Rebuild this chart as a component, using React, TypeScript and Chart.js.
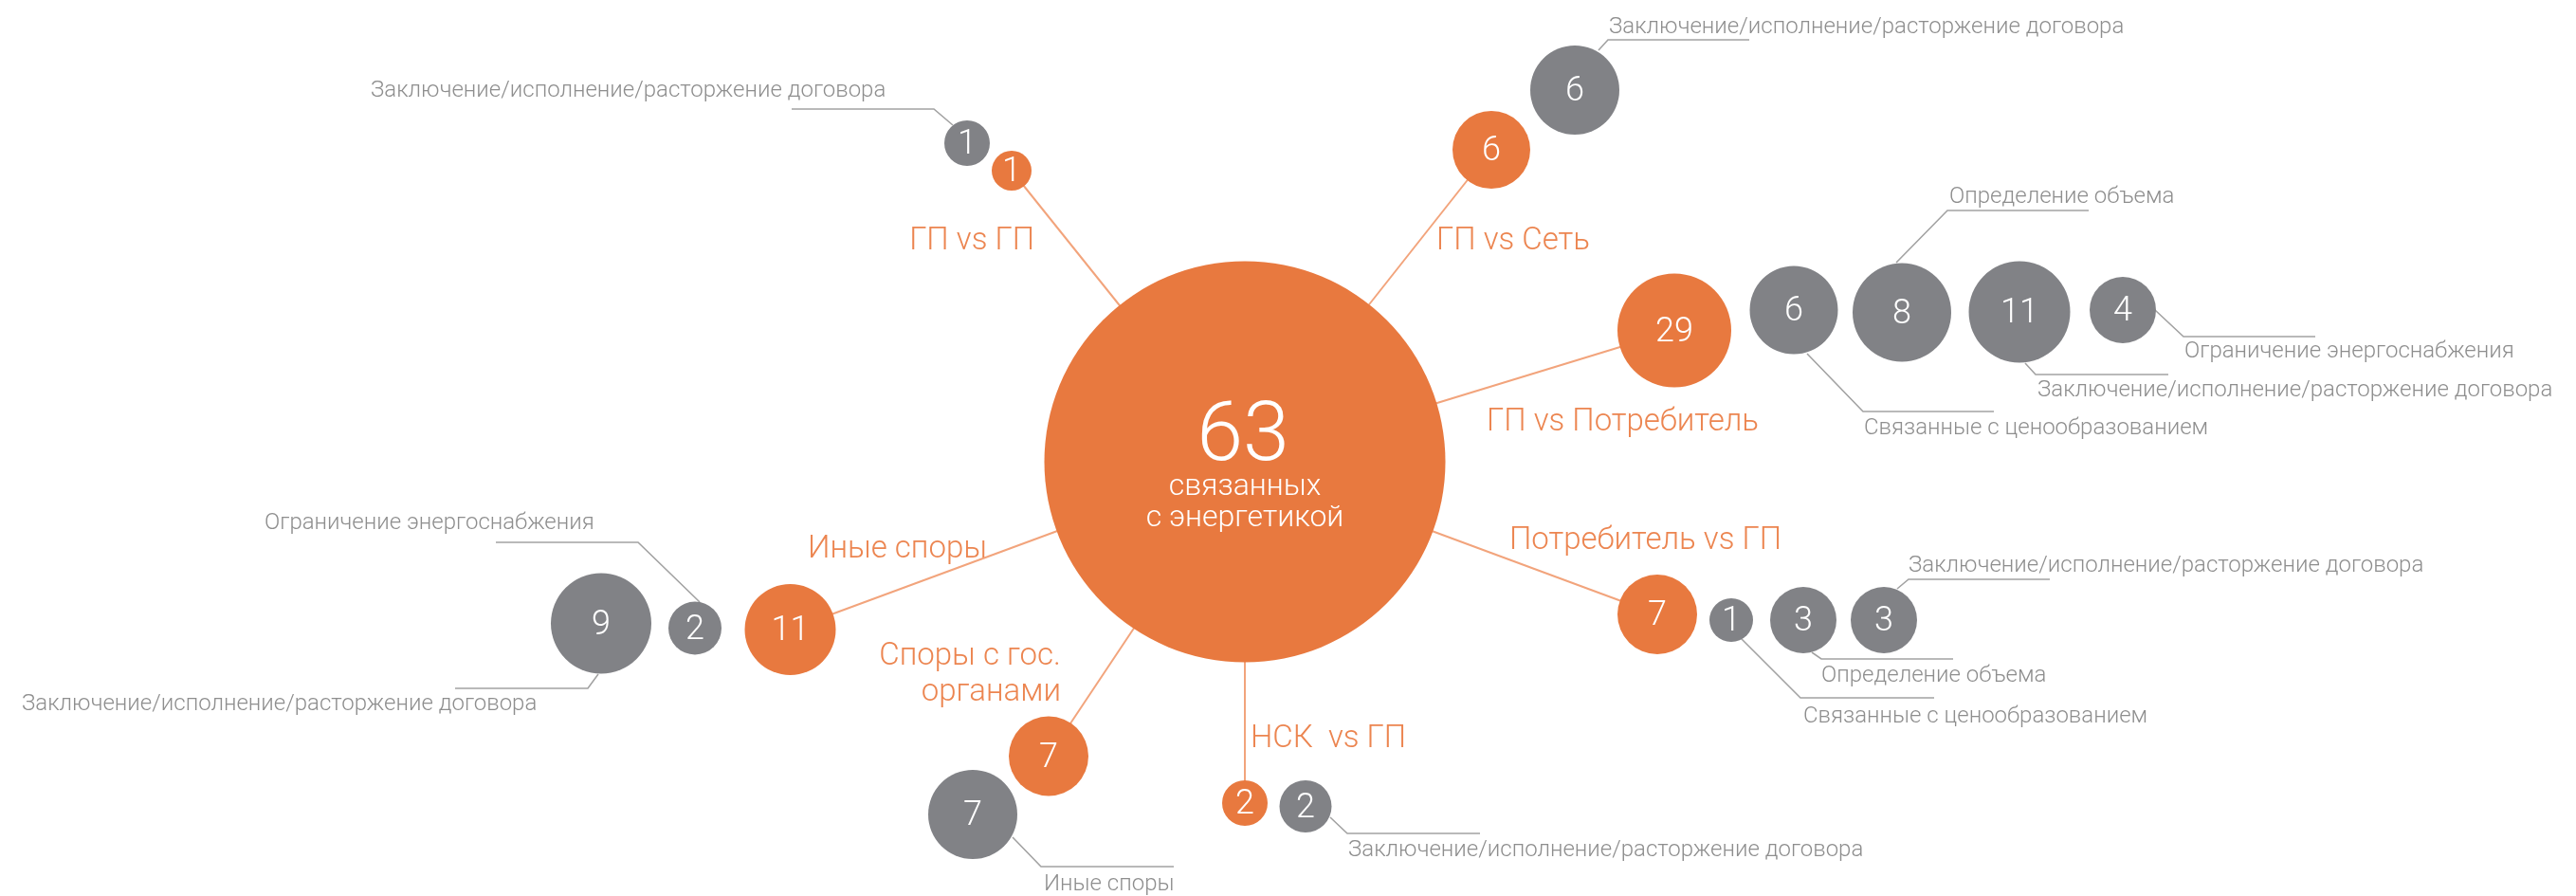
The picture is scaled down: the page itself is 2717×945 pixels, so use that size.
import React, { useEffect, useRef } from 'react';
import { Chart, registerables } from 'chart.js';

Chart.register(...registerables);

// ---------- DATA ----------
const totalValue = 63;
const totalCaption = ['связанных', 'с энергетикой'];

const categoryLabels = [
  ['ГП vs ГП'],
  ['ГП vs Сеть'],
  ['ГП vs Потребитель'],
  ['Потребитель vs ГП'],
  ['НСК  vs ГП'],
  ['Споры с гос.', 'органами'],
  ['Иные споры'],
];
const categoryValues = [1, 6, 29, 7, 2, 7, 11];

const CONTRACT = 'Заключение/исполнение/расторжение договора';
const subLabels = [
  CONTRACT,
  CONTRACT,
  'Связанные с ценообразованием',
  'Определение объема',
  CONTRACT,
  'Ограничение энергоснабжения',
  'Связанные с ценообразованием',
  'Определение объема',
  CONTRACT,
  CONTRACT,
  'Иные споры',
  'Ограничение энергоснабжения',
  CONTRACT,
];
const subValues = [1, 6, 6, 8, 11, 4, 1, 3, 3, 2, 7, 2, 9];
const subParent = [0, 1, 2, 2, 2, 2, 3, 3, 3, 4, 5, 6, 6];

// ---------- LAYOUT (diagram coordinates, px) ----------
const W = 2717;
const H = 945;
const totalLayout = { x: 1313, y: 487, r: 211.5 };
const categoryLayout = [
  { x: 1067, y: 180, r: 21 },
  { x: 1573, y: 158, r: 41 },
  { x: 1766, y: 348.5, r: 60 },
  { x: 1748, y: 648, r: 42 },
  { x: 1313, y: 847, r: 24 },
  { x: 1106, y: 797.5, r: 42 },
  { x: 833.5, y: 664, r: 48 },
];
const categoryLabelLayout = [
  { x: 1091, y: 263, align: 'right' },
  { x: 1515, y: 263, align: 'left' },
  { x: 1568, y: 454, align: 'left' },
  { x: 1592, y: 579, align: 'left' },
  { x: 1319, y: 788, align: 'left' },
  { x: 1119, y: 701, align: 'right' },
  { x: 1041, y: 588, align: 'right' },
];
const subLayout = [
  { x: 1020, y: 151, r: 24 },
  { x: 1661, y: 95, r: 47 },
  { x: 1892, y: 327, r: 46.5 },
  { x: 2006, y: 329.5, r: 52 },
  { x: 2130, y: 329, r: 53.5 },
  { x: 2239, y: 327, r: 35 },
  { x: 1826, y: 654, r: 23 },
  { x: 1902, y: 654, r: 35 },
  { x: 1987, y: 654, r: 35 },
  { x: 1377, y: 850.5, r: 27.5 },
  { x: 1026, y: 859, r: 47 },
  { x: 733, y: 662.5, r: 28 },
  { x: 634, y: 657.5, r: 53 },
];
const subLabelLayout = [
  { x: 391, y: 102 },
  { x: 1697, y: 35 },
  { x: 1966, y: 458 },
  { x: 2056, y: 214 },
  { x: 2149, y: 418 },
  { x: 2304, y: 377 },
  { x: 1902, y: 762 },
  { x: 1921, y: 719 },
  { x: 2013, y: 603 },
  { x: 1422, y: 903 },
  { x: 1101, y: 939 },
  { x: 279, y: 558 },
  { x: 23, y: 749 },
];
const subLeaders = [
  [[1005, 132], [985, 115], [835, 115]],
  [[1686, 53], [1696, 42], [1845, 42]],
  [[1906, 373], [1965, 434], [2103, 434]],
  [[2000, 277], [2054, 222], [2203, 222]],
  [[2136, 383], [2147, 395], [2287, 395]],
  [[2273, 327], [2303, 355], [2442, 355]],
  [[1836, 673], [1899, 736], [2040, 736]],
  [[1911, 688], [1921, 695], [2060, 695]],
  [[2001, 621], [2013, 611], [2162, 611]],
  [[1403, 862], [1421, 879], [1561, 879]],
  [[1068, 883], [1098, 914], [1238, 914]],
  [[738, 635], [673, 572], [523, 572]],
  [[631, 711], [620, 726], [480, 726]],
];

// ---------- STYLE ----------
const ORANGE = '#E8793F';
const ORANGE_TEXT = '#EC8550';
const ORANGE_LINE = '#F2A47C';
const GRAY = '#818286';
const GRAY_TEXT = '#8E8E8E';
const GRAY_LINE = '#A2A2A2';
const FONT = 'Roboto, "Open Sans", sans-serif';

const textPlugin = {
  id: 'bubbleText',
  afterDraw(chart: any) {
    const ctx = chart.ctx;
    const sx = chart.scales.x;
    const sy = chart.scales.y;
    const px = (v: number) => sx.getPixelForValue(v);
    const py = (v: number) => sy.getPixelForValue(v);
    ctx.save();
    ctx.textBaseline = 'alphabetic';

    // total
    const totalEl = chart.getDatasetMeta(0).data[0];
    ctx.fillStyle = '#FFFFFF';
    ctx.textAlign = 'center';
    ctx.font = `300 88px ${FONT}`;
    ctx.fillText(String(totalValue), totalEl.x - 2, totalEl.y - 2);
    ctx.font = `300 32px ${FONT}`;
    ctx.fillText(totalCaption[0], totalEl.x, totalEl.y + 35);
    ctx.fillText(totalCaption[1], totalEl.x, totalEl.y + 68);

    // category numbers
    ctx.font = `300 36px ${FONT}`;
    chart.getDatasetMeta(1).data.forEach((el: any, i: number) => {
      ctx.fillText(String(categoryValues[i]), el.x, el.y + 11);
    });
    chart.getDatasetMeta(2).data.forEach((el: any, i: number) => {
      ctx.fillText(String(subValues[i]), el.x, el.y + 11);
    });

    // category labels
    ctx.fillStyle = ORANGE_TEXT;
    ctx.font = `300 33px ${FONT}`;
    categoryLabels.forEach((lines, i) => {
      const l = categoryLabelLayout[i];
      ctx.textAlign = l.align;
      lines.forEach((t, k) => ctx.fillText(t, px(l.x), py(l.y + k * 38)));
    });

    // sub labels
    ctx.fillStyle = GRAY_TEXT;
    ctx.font = `300 24px ${FONT}`;
    ctx.textAlign = 'left';
    subLabels.forEach((t, i) => {
      const l = subLabelLayout[i];
      ctx.fillText(t, px(l.x), py(l.y));
    });
    ctx.restore();
  },
};

export default function App() {
  const ref = useRef<HTMLCanvasElement | null>(null);
  useEffect(() => {
    document.body.style.margin = '0';
    const canvas = ref.current;
    if (!canvas) return;

    const connectorSets = categoryLayout.map((c) => ({
      type: 'line' as const,
      data: [
        { x: totalLayout.x, y: totalLayout.y },
        { x: c.x, y: c.y },
      ],
      borderColor: ORANGE_LINE,
      borderWidth: 2,
      pointRadius: 0,
      fill: false,
      tension: 0,
      order: 10,
      clip: false,
    }));
    const leaderSets = subLeaders.map((pts) => ({
      type: 'line' as const,
      data: pts.map(([x, y]) => ({ x, y })),
      borderColor: GRAY_LINE,
      borderWidth: 1.6,
      pointRadius: 0,
      fill: false,
      tension: 0,
      order: 10,
      clip: false,
    }));

    const chart = new Chart(canvas, {
      type: 'bubble',
      data: {
        datasets: [
          {
            data: [{ x: totalLayout.x, y: totalLayout.y, r: totalLayout.r }],
            backgroundColor: ORANGE,
            borderWidth: 0,
            order: 0,
            clip: false,
          } as any,
          {
            data: categoryValues.map((_, i) => ({ x: categoryLayout[i].x, y: categoryLayout[i].y, r: categoryLayout[i].r })),
            backgroundColor: ORANGE,
            borderWidth: 0,
            order: 0,
            clip: false,
          },
          {
            data: subValues.map((_, i) => ({ x: subLayout[i].x, y: subLayout[i].y, r: subLayout[i].r })),
            backgroundColor: GRAY,
            borderWidth: 0,
            order: 0,
            clip: false,
          },
          ...connectorSets,
          ...leaderSets,
        ] as any,
      },
      options: {
        animation: false,
        responsive: false,
        events: [],
        layout: { padding: 0, autoPadding: false },
        plugins: { legend: { display: false }, tooltip: { enabled: false } },
        scales: {
          x: { type: 'linear', min: 0, max: W, display: false },
          y: { type: 'linear', min: 0, max: H, reverse: true, display: false },
        },
      },
      plugins: [textPlugin],
    });
    return () => chart.destroy();
  }, []);

  return (
    <div style={{ width: W, height: H, overflow: 'hidden', background: '#fff' }}>
      <canvas ref={ref} width={W} height={H} style={{ display: 'block', width: W, height: H }} />
    </div>
  );
}
